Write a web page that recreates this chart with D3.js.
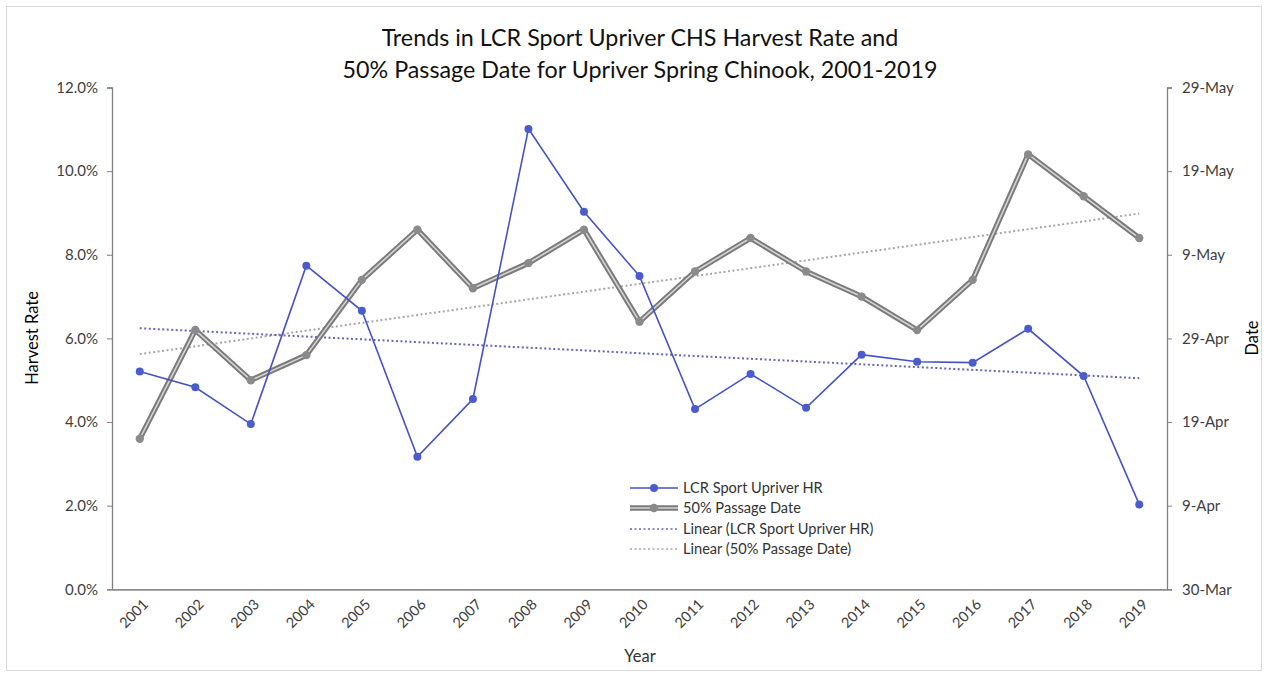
<!DOCTYPE html>
<html><head><meta charset="utf-8">
<script src="https://cdn.jsdelivr.net/npm/d3@7"></script>
<style>body{margin:0;background:#fff}svg{display:block}text{font-family:Lato,"Open Sans",sans-serif}</style>
</head><body><svg id="c" width="1267" height="675"></svg>
<script>
const years = ["2001","2002","2003","2004","2005","2006","2007","2008","2009","2010","2011","2012","2013","2014","2015","2016","2017","2018","2019"];
const harvestRate = [0.0521,0.0483,0.0395,0.0774,0.0666,0.0317,0.0455,0.1101,0.0903,0.0749,0.0431,0.0515,0.0434,0.0561,0.0544,0.0542,0.0623,0.0510,0.0203];
const passageDate = ["17-Apr","30-Apr","24-Apr","27-Apr","6-May","12-May","5-May","8-May","12-May","1-May","7-May","11-May","7-May","4-May","30-Apr","6-May","21-May","16-May","11-May"];
const leftTicks = [0,0.02,0.04,0.06,0.08,0.10,0.12];
const rightTicks = ["30-Mar","9-Apr","19-Apr","29-Apr","9-May","19-May","29-May"];
const seriesNames = ["LCR Sport Upriver HR","50% Passage Date","Linear (LCR Sport Upriver HR)","Linear (50% Passage Date)"];

const parse = d3.timeParse("%d-%b");
const dates = passageDate.map(parse);
const svg = d3.select("#c");
const M = {l:112, r:1167, t:87.5, b:589.3};

svg.append("rect").attr("x",6.5).attr("y",6.5).attr("width",1255).attr("height",664)
  .attr("fill","#fff").attr("stroke","#d9d9d9");

const x = d3.scalePoint().domain(years).range([M.l, M.r]).padding(0.5);
const yL = d3.scaleLinear().domain([0,0.12]).range([M.b, M.t]);
const yR = d3.scaleTime().domain([parse(rightTicks[0]), parse(rightTicks[rightTicks.length-1])]).range([M.b, M.t]);

// axes
const gL = svg.append("g").attr("transform",`translate(${M.l},0)`)
  .call(d3.axisLeft(yL).tickValues(leftTicks).tickFormat(d3.format(".1%")).tickSize(5).tickPadding(9));
const gR = svg.append("g").attr("transform",`translate(${M.r},0)`)
  .call(d3.axisRight(yR).tickValues(rightTicks.map(parse)).tickFormat(d3.timeFormat("%-d-%b")).tickSize(5).tickPadding(10));
[gL,gR].forEach(g=>{
  g.select(".domain").attr("stroke","#7f7f7f").attr("stroke-width",1.3);
  g.selectAll(".tick line").attr("stroke","#7f7f7f");
  g.selectAll("text").attr("fill","#404040").attr("font-size",15).attr("font-family","Lato,sans-serif");
});
const gX = svg.append("g").attr("transform",`translate(0,${M.b})`)
  .call(d3.axisBottom(x).tickSize(0).tickPadding(0));
gX.select(".domain").attr("stroke","#8c8c8c").attr("stroke-width",1.8);
gX.selectAll(".tick text").attr("fill","#404040").attr("font-size",14.5).attr("font-family","Lato,sans-serif")
  .attr("text-anchor","end").attr("dy",0).attr("transform","translate(9,16) rotate(-45)");

// axis titles
svg.append("text").attr("transform","translate(38,338) rotate(-90)").attr("text-anchor","middle")
  .attr("font-size",16.5).attr("fill","#000").text("Harvest Rate");
svg.append("text").attr("transform","translate(1258,338) rotate(-90)").attr("text-anchor","middle")
  .attr("font-size",16.5).attr("fill","#000").text("Date");
svg.append("text").attr("x",640).attr("y",662).attr("text-anchor","middle")
  .attr("font-size",16.5).attr("fill","#333").text("Year");

// title
svg.append("text").attr("x",640).attr("y",46).attr("text-anchor","middle").attr("font-size",23.3).attr("fill","#111")
  .text("Trends in LCR Sport Upriver CHS Harvest Rate and");
svg.append("text").attr("x",640).attr("y",78).attr("text-anchor","middle").attr("font-size",23.3).attr("fill","#111")
  .text("50% Passage Date for Upriver Spring Chinook, 2001-2019");

// trend lines (least squares)
function fit(vals){
  const n=vals.length, xs=d3.range(n), mx=d3.mean(xs), my=d3.mean(vals);
  const s=d3.sum(xs,(xi,i)=>(xi-mx)*(vals[i]-my))/d3.sum(xs,xi=>(xi-mx)*(xi-mx));
  return [my-s*mx, my+s*(n-1-mx)];
}
const hrFit = fit(harvestRate);
const dNum = dates.map(d=>+d);
const dFit = fit(dNum);
svg.append("line").attr("x1",x(years[0])).attr("x2",x(years[years.length-1]))
  .attr("y1",yR(new Date(dFit[0]))).attr("y2",yR(new Date(dFit[1])))
  .attr("stroke","#a6a6a6").attr("stroke-width",2).attr("stroke-dasharray","2,2.5");
svg.append("line").attr("x1",x(years[0])).attr("x2",x(years[years.length-1]))
  .attr("y1",yL(hrFit[0])).attr("y2",yL(hrFit[1]))
  .attr("stroke","#6268b5").attr("stroke-width",2).attr("stroke-dasharray","2,2.5");

// passage date series (double line)
const lineD = d3.line().x((d,i)=>x(years[i])).y(d=>yR(d));
svg.append("path").datum(dates).attr("d",lineD).attr("fill","none").attr("stroke","#7a7a7a").attr("stroke-width",5.5).attr("stroke-linejoin","round");
svg.append("path").datum(dates).attr("d",lineD).attr("fill","none").attr("stroke","#d4d4d4").attr("stroke-width",1.6).attr("stroke-linejoin","round");
svg.selectAll(".pd").data(dates).join("circle").attr("cx",(d,i)=>x(years[i])).attr("cy",d=>yR(d))
  .attr("r",4.2).attr("fill","#8a8a8a");

// harvest rate series
const lineH = d3.line().x((d,i)=>x(years[i])).y(d=>yL(d));
svg.append("path").datum(harvestRate).attr("d",lineH).attr("fill","none").attr("stroke","#4652c4").attr("stroke-width",1.6);
svg.selectAll(".hr").data(harvestRate).join("circle").attr("cx",(d,i)=>x(years[i])).attr("cy",d=>yL(d))
  .attr("r",4).attr("fill","#4a5ccc");

// legend
const lg = svg.append("g");
const rows = [488,508,529,549];
const lx0=630, lx1=678;
lg.append("line").attr("x1",lx0).attr("x2",lx1).attr("y1",rows[0]).attr("y2",rows[0]).attr("stroke","#4652c4").attr("stroke-width",1.6);
lg.append("circle").attr("cx",(lx0+lx1)/2).attr("cy",rows[0]).attr("r",4).attr("fill","#4a5ccc");
lg.append("line").attr("x1",lx0).attr("x2",lx1).attr("y1",rows[1]).attr("y2",rows[1]).attr("stroke","#7a7a7a").attr("stroke-width",5.5);
lg.append("line").attr("x1",lx0).attr("x2",lx1).attr("y1",rows[1]).attr("y2",rows[1]).attr("stroke","#d4d4d4").attr("stroke-width",1.6);
lg.append("circle").attr("cx",(lx0+lx1)/2).attr("cy",rows[1]).attr("r",4.2).attr("fill","#8a8a8a");
lg.append("line").attr("x1",lx0).attr("x2",lx1).attr("y1",rows[2]).attr("y2",rows[2]).attr("stroke","#8a8fcc").attr("stroke-width",2).attr("stroke-dasharray","2,2.5");
lg.append("line").attr("x1",lx0).attr("x2",lx1).attr("y1",rows[3]).attr("y2",rows[3]).attr("stroke","#bdbdbd").attr("stroke-width",2).attr("stroke-dasharray","2,2.5");
seriesNames.forEach((n,i)=>lg.append("text").attr("x",683).attr("y",rows[i]).attr("dy","0.35em")
  .attr("font-size",14.6).attr("fill","#333").text(n));
</script></body></html>
